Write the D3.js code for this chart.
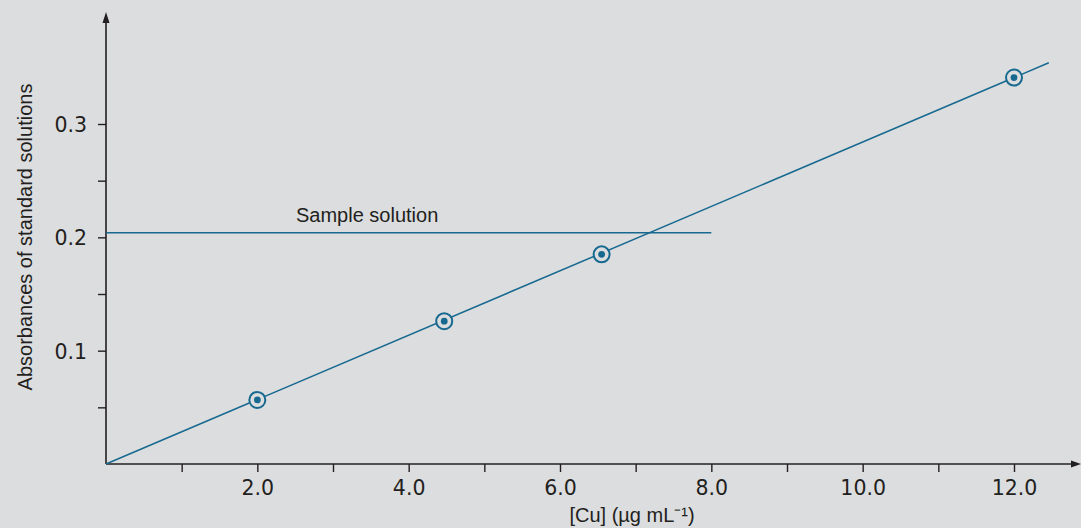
<!DOCTYPE html>
<html><head><meta charset="utf-8">
<script src="https://cdn.jsdelivr.net/npm/d3@7"></script>
<style>html,body{margin:0;padding:0;background:#dcdddf;}svg{display:block;}</style>
</head><body><svg id="c" width="1081" height="528"></svg>
<script>
const concentrations = [2.0, 4.47, 6.55, 12.0];
const absorbances = [0.0565, 0.126, 0.185, 0.341];
const fitLine = [[0, 0], [12.46, 0.354]];
const sampleAbsorbance = 0.204;
const sampleLineEnd = 8.0;
const xMajorTicks = [2, 4, 6, 8, 10, 12];
const xMinorTicks = [1, 3, 5, 7, 9, 11];
const yMajorTicks = [0.1, 0.2, 0.3];
const yMinorTicks = [0.05, 0.15, 0.25];
const xTitle = "[Cu] (\u00b5g mL\u207b\u00b9)";
const yTitle = "Absorbances of standard solutions";
const sampleLabel = "Sample solution";

const svg = d3.select("#c");
const ink = "#231f20", blue = "#17698f", bg = "#dcdddf";
const font = "'Liberation Sans', Arial, sans-serif";
const numFont = "'DejaVu Sans', sans-serif";
const x = d3.scaleLinear().domain([0, 12]).range([106, 1014]);
const y = d3.scaleLinear().domain([0, 0.3]).range([464, 124]);
const ox = x(0), oy = y(0);

svg.append("rect").attr("width",1081).attr("height",528).attr("fill",bg);

// axes lines
svg.append("line").attr("x1",ox).attr("y1",oy).attr("x2",ox).attr("y2",18).attr("stroke",ink).attr("stroke-width",1.6);
svg.append("line").attr("x1",ox).attr("y1",oy).attr("x2",1074).attr("y2",oy).attr("stroke",ink).attr("stroke-width",1.6);
svg.append("path").attr("d",`M${ox},12 L${ox-3.5},23 L${ox+3.5},23 Z`).attr("fill",ink);
svg.append("path").attr("d",`M1081,${oy} L1071,${oy-3.5} L1071,${oy+3.5} Z`).attr("fill",ink);

// x ticks
const xAxis = d3.axisBottom(x).tickValues(xMajorTicks.concat(xMinorTicks)).tickSize(8)
  .tickFormat(d => xMajorTicks.includes(d) ? d3.format(".1f")(d) : "");
const gx = svg.append("g").attr("transform",`translate(0,${oy})`).call(xAxis);
gx.select(".domain").remove();
gx.selectAll("line").attr("stroke",ink).attr("stroke-width",1.4);
gx.selectAll("text").attr("font-family",numFont).attr("font-size",20.5).attr("fill",ink).attr("dy",null).attr("y",31);

const yAxis = d3.axisLeft(y).tickValues(yMajorTicks.concat(yMinorTicks)).tickSize(8)
  .tickFormat(d => yMajorTicks.includes(d) ? d3.format(".1f")(d) : "");
const gy = svg.append("g").attr("transform",`translate(${ox},0)`).call(yAxis);
gy.select(".domain").remove();
gy.selectAll("line").attr("stroke",ink).attr("stroke-width",1.4);
gy.selectAll("text").attr("font-family",numFont).attr("font-size",20.5).attr("fill",ink).attr("x",-19).attr("dy","0.36em");

// titles
svg.append("text").attr("x",632).attr("y",522).attr("text-anchor","middle").attr("font-family",font).attr("font-size",20).attr("fill",ink).text(xTitle);
svg.append("text").attr("transform","translate(32,237) rotate(-90)").attr("text-anchor","middle").attr("font-family",font).attr("font-size",20).attr("fill",ink).text(yTitle);

// sample line
svg.append("line").attr("x1",x(0)).attr("x2",x(sampleLineEnd)).attr("y1",y(sampleAbsorbance)).attr("y2",y(sampleAbsorbance)).attr("stroke",blue).attr("stroke-width",1.5);
svg.append("text").attr("x",296).attr("y",222).attr("font-family",font).attr("font-size",20).attr("fill",ink).text(sampleLabel);

// fit line
svg.append("path").datum(fitLine).attr("d",d3.line().x(d=>x(d[0])).y(d=>y(d[1]))).attr("stroke",blue).attr("stroke-width",1.5).attr("fill","none");

// points
const pts = concentrations.map((c,i)=>[c,absorbances[i]]);
svg.selectAll("circle.o").data(pts).join("circle").attr("class","o").attr("cx",d=>x(d[0])).attr("cy",d=>y(d[1])).attr("r",8).attr("fill",bg).attr("stroke",blue).attr("stroke-width",2);
svg.selectAll("circle.i").data(pts).join("circle").attr("class","i").attr("cx",d=>x(d[0])).attr("cy",d=>y(d[1])).attr("r",3.4).attr("fill",blue);
</script></body></html>
